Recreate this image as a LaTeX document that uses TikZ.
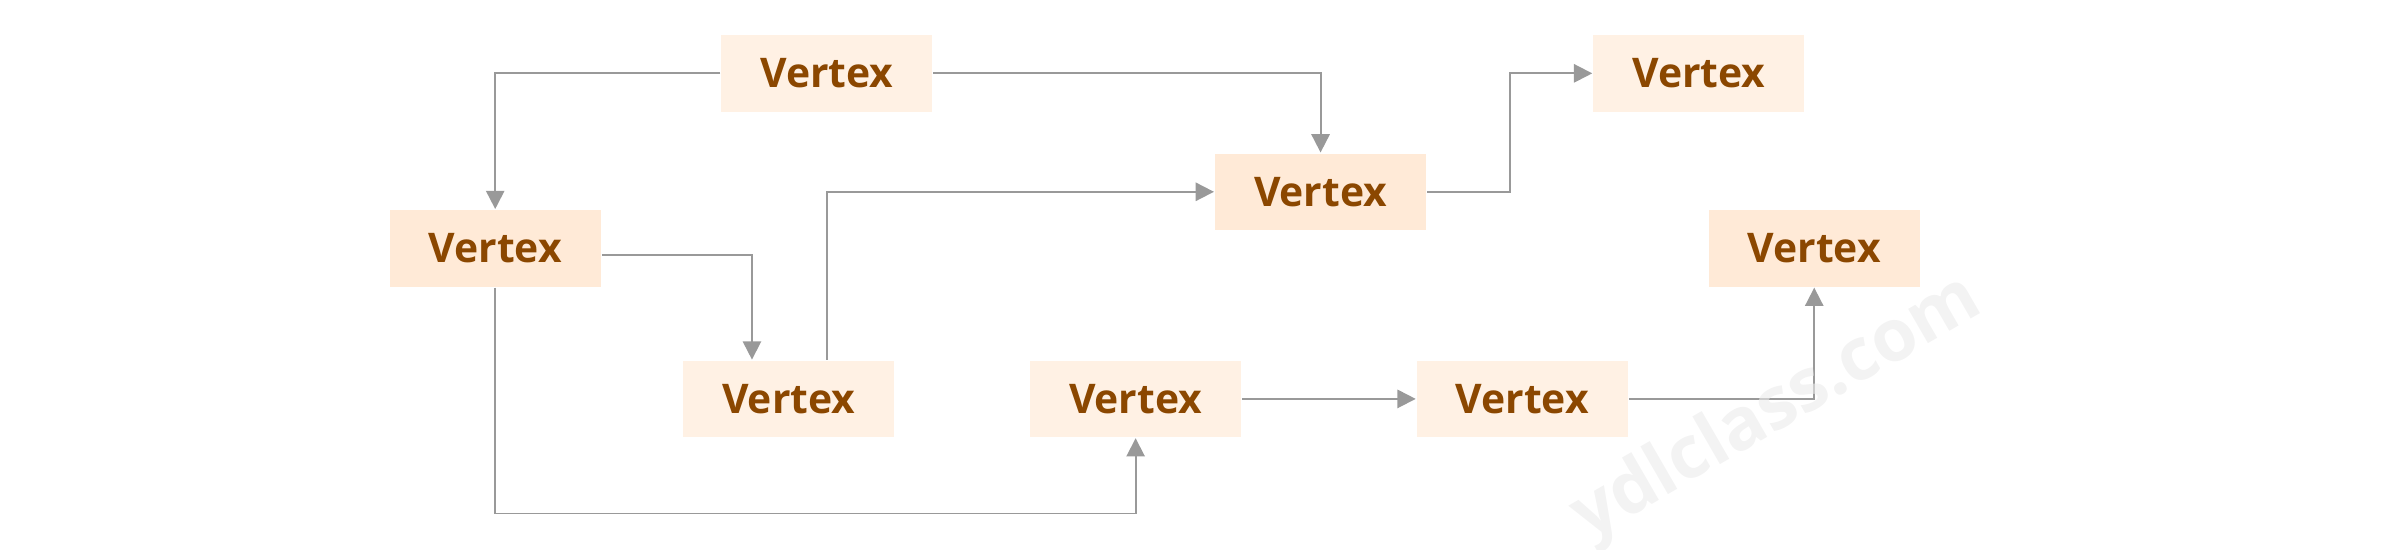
\documentclass[tikz,border=0pt]{standalone}
\usepackage{fontspec}
\setmainfont{Open Sans}
\usetikzlibrary{arrows.meta}
\definecolor{lightfill}{HTML}{FFF1E4}
\definecolor{darkfill}{HTML}{FFEAD7}
\definecolor{txt}{HTML}{8B4700}
\definecolor{edge}{HTML}{999999}
\definecolor{wmcol}{HTML}{EBEBEB}
\begin{document}
\begin{tikzpicture}[x=0.01cm,y=-0.01cm,
  vbox/.style={minimum width=1.38cm,minimum height=0.5cm,inner sep=0pt,
    text=txt,font=\fontsize{7.6}{9}\selectfont\bfseries},
  vlight/.style={vbox,fill=lightfill},
  vdark/.style={vbox,fill=darkfill},
  conn/.style={draw=edge,line width=0.35pt,-{Triangle[width=3.4pt,length=3.4pt]}}]
\useasboundingbox (0,0) rectangle (1565,359.84);
\node[vlight] (A) at (541,48) {Vertex};
\node[vdark] (B) at (324,162.5) {Vertex};
\node[vdark] (C) at (864,125.5) {Vertex};
\node[vlight] (D) at (1111.5,48) {Vertex};
\node[vdark] (E) at (1187,162.5) {Vertex};
\node[vlight] (F) at (516,261) {Vertex};
\node[vlight] (G) at (743,261) {Vertex};
\node[vlight] (H) at (996,261) {Vertex};
\coordinate (bg) at (743,336);
\coordinate (cd) at (988,48);
\draw[conn] (A.west) -| (B.north);
\draw[conn] (A.east) -| (C.north);
\draw[conn] ([yshift=-0.045cm]B.east) -| ([xshift=-0.24cm]F.north);
\draw[conn] (B.south) |- (bg) -- (G.south);
\draw[conn] ([xshift=0.25cm]F.north) |- (C.west);
\draw[conn] (C.east) -| (cd) -- (D.west);
\draw[conn] (G.east) -- (H.west);
\draw[conn] (H.east) -| (E.south);
\node[rotate=30,font=\fontsize{13.5}{15}\selectfont\bfseries,text=wmcol,text opacity=0.6] (wmk) at (1163,268) {ydlclass.com};
\end{tikzpicture}
\end{document}
